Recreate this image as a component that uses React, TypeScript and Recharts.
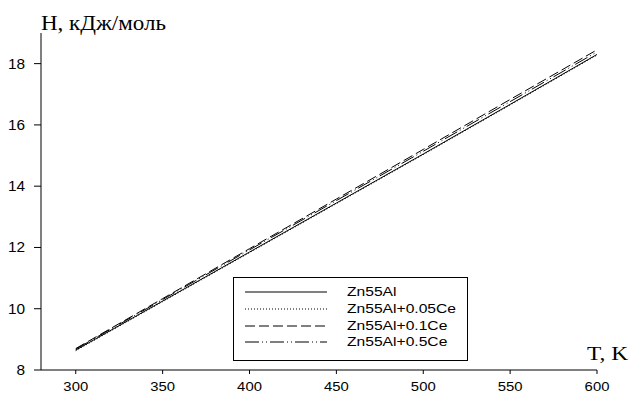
import { LineChart, Line, XAxis, YAxis } from "recharts";

const temps = [300, 350, 400, 450, 500, 550, 600];
const zn55al = [8.65, 10.25, 11.85, 13.45, 15.05, 16.67, 18.3];
const ce005 = [8.63, 10.23, 11.83, 13.43, 15.03, 16.65, 18.28];
const ce01 = [8.7, 10.33, 11.96, 13.58, 15.2, 16.83, 18.45];
const ce05 = [8.68, 10.3, 11.92, 13.53, 15.14, 16.76, 18.38];

const xTicks = [300, 350, 400, 450, 500, 550, 600];
const yTicks = [8, 10, 12, 14, 16, 18];

const series = [
  { key: "a", name: "Zn55Al", dash: undefined as string | undefined },
  { key: "b", name: "Zn55Al+0.05Ce", dash: "1 2" },
  { key: "c", name: "Zn55Al+0.1Ce", dash: "10 4" },
  { key: "d", name: "Zn55Al+0.5Ce", dash: "14 3 1 3 1 3" },
];

const data = temps.map((t, i) => ({
  t,
  a: zn55al[i],
  b: ce005[i],
  c: ce01[i],
  d: ce05[i],
}));

const SANS = "Liberation Sans, Arial, sans-serif";
const SERIF = "Liberation Serif, Times New Roman, serif";

// the original picture is a bit stretched horizontally, so the text is too
function XTick({ x, y, payload }: any) {
  return (
    <text
      transform={`translate(${x},${y}) scale(1.1,1)`}
      dy={15}
      textAnchor="middle"
      fontSize={13.5}
      fontFamily={SANS}
      fill="#000"
    >
      {payload.value}
    </text>
  );
}

function YTick({ x, y, payload }: any) {
  return (
    <text
      transform={`translate(${x - 3},${y}) scale(1.1,1)`}
      dy={5}
      textAnchor="end"
      fontSize={14}
      fontFamily={SANS}
      fill="#000"
    >
      {payload.value}
    </text>
  );
}

function LegendBox() {
  return (
    <div
      style={{
        position: "absolute",
        left: 233,
        top: 277,
        border: "1px solid #000",
        background: "#fff",
        width: 235,
        height: 84,
        boxSizing: "border-box",
        padding: "6px 0 0 11px",
        fontFamily: SANS,
        fontSize: 12.5,
        color: "#000",
      }}
    >
      {series.map((s) => (
        <div key={s.key} style={{ display: "flex", alignItems: "center", height: 16.7 }}>
          <svg width={82} height={6} style={{ marginRight: 20, flexShrink: 0 }}>
            <line x1={0} y1={3} x2={82} y2={3} stroke="#000" strokeWidth={1} strokeDasharray={s.dash} />
          </svg>
          <span
            style={{
              display: "inline-block",
              whiteSpace: "nowrap",
              transform: "scaleX(1.25)",
              transformOrigin: "left center",
            }}
          >
            {s.name}
          </span>
        </div>
      ))}
    </div>
  );
}

export default function App() {
  return (
    <div style={{ position: "absolute", left: 0, top: 0, width: 634, height: 394, background: "#fff" }}>
      <LineChart width={634} height={394} data={data} margin={{ top: 33, right: 37, left: 0, bottom: 0 }}>
        <XAxis
          dataKey="t"
          type="number"
          domain={[280, 600]}
          ticks={xTicks}
          height={24}
          tick={<XTick />}
          tickSize={4}
          tickMargin={2}
          stroke="#000"
          allowDataOverflow
        />
        <YAxis
          type="number"
          domain={[8, 19]}
          ticks={yTicks}
          width={41}
          tick={<YTick />}
          tickSize={7}
          tickMargin={6}
          stroke="#000"
          allowDataOverflow
        />
        {series.map((s) => (
          <Line
            key={s.key}
            dataKey={s.key}
            name={s.name}
            stroke="#000"
            strokeWidth={1}
            strokeDasharray={s.dash}
            dot={false}
            isAnimationActive={false}
          />
        ))}
      </LineChart>
      <LegendBox />
      <div
        style={{
          position: "absolute",
          left: 41,
          top: 13,
          fontFamily: SERIF,
          fontSize: 20,
          lineHeight: 1,
          color: "#000",
          whiteSpace: "nowrap",
          transform: "scaleX(1.15)",
          transformOrigin: "left top",
        }}
      >
        H, кДж/моль
      </div>
      <div
        style={{
          position: "absolute",
          left: 587,
          top: 345,
          fontFamily: SERIF,
          fontSize: 18,
          lineHeight: 1,
          color: "#000",
          whiteSpace: "nowrap",
          transform: "scaleX(1.3)",
          transformOrigin: "left top",
        }}
      >
        T, K
      </div>
    </div>
  );
}
